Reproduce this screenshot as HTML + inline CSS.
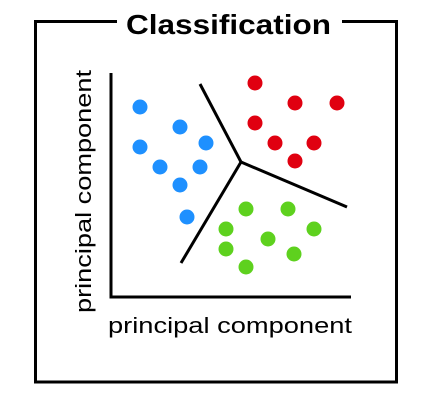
<!DOCTYPE html>
<html><head><style>html,body{margin:0;padding:0;background:#fff}</style></head>
<body>
<svg width="426" height="410" xmlns="http://www.w3.org/2000/svg" style="display:block">
<rect width="426" height="410" fill="#fff"/>
<polyline points="117,21.5 35.5,21.5 35.5,382 396.5,382 396.5,21.5 342,21.5" fill="none" stroke="#000" stroke-width="3"/>
<text x="228.5" y="34" text-anchor="middle" font-family="Liberation Sans, sans-serif" font-weight="bold" font-size="28" textLength="205" lengthAdjust="spacingAndGlyphs">Classification</text>
<polyline points="111,73 111,297 351,297" fill="none" stroke="#000" stroke-width="3"/>
<g stroke="#000" stroke-width="3" fill="none">
<line x1="200" y1="84" x2="241" y2="162"/>
<line x1="241" y1="162" x2="181" y2="263"/>
<line x1="241" y1="162" x2="347" y2="207"/>
</g>
<g fill="#1E90FF">
<circle cx="140" cy="107" r="7.5"/><circle cx="180" cy="127" r="7.5"/><circle cx="140" cy="147" r="7.5"/><circle cx="206" cy="143" r="7.5"/><circle cx="160" cy="167" r="7.5"/><circle cx="200" cy="167" r="7.5"/><circle cx="180" cy="185" r="7.5"/><circle cx="187" cy="217" r="7.5"/>
</g>
<g fill="#E00010">
<circle cx="255" cy="83" r="7.5"/><circle cx="295" cy="103" r="7.5"/><circle cx="337" cy="103" r="7.5"/><circle cx="255" cy="123" r="7.5"/><circle cx="275" cy="143" r="7.5"/><circle cx="314" cy="143" r="7.5"/><circle cx="295" cy="161" r="7.5"/>
</g>
<g fill="#5ED11E">
<circle cx="246" cy="209" r="7.5"/><circle cx="288" cy="209" r="7.5"/><circle cx="226" cy="229" r="7.5"/><circle cx="268" cy="239" r="7.5"/><circle cx="314" cy="229" r="7.5"/><circle cx="226" cy="249" r="7.5"/><circle cx="294" cy="254" r="7.5"/><circle cx="246" cy="267" r="7.5"/>
</g>
<text x="108" y="333" font-family="Liberation Sans, sans-serif" font-size="22" textLength="244" lengthAdjust="spacingAndGlyphs">principal component</text>
<text transform="translate(91,313) rotate(-90)" x="0" y="0" font-family="Liberation Sans, sans-serif" font-size="22" textLength="243" lengthAdjust="spacingAndGlyphs">principal component</text>
</svg>
</body></html>
